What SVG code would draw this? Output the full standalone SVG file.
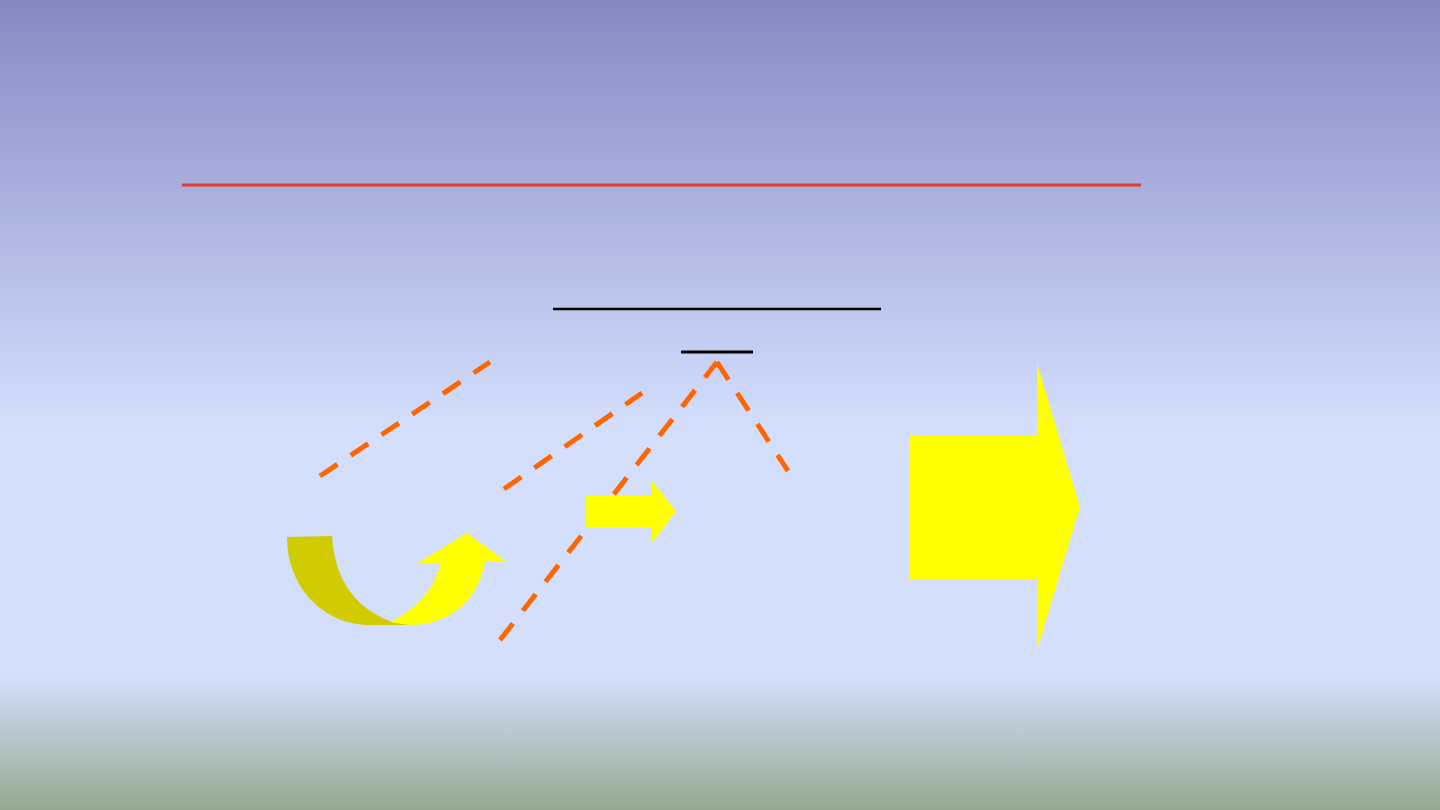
<svg xmlns="http://www.w3.org/2000/svg" width="1440" height="810" viewBox="0 0 1440 810">
<defs>
<linearGradient id="bg" x1="0" y1="0" x2="0" y2="1">
<stop offset="0" stop-color="#8589C3"/>
<stop offset="0.53" stop-color="#D4DFFE"/>
<stop offset="0.835" stop-color="#D4DFFE"/>
<stop offset="1" stop-color="#94AA90"/>
</linearGradient>
</defs>
<style>
.dash{stroke:#FF6600;stroke-width:5;stroke-dasharray:21 16;fill:none}
.yel{fill:#FFFF00}
.blk{stroke:#000;fill:none}
</style>
<rect width="1440" height="810" fill="url(#bg)"/>
<line x1="182" y1="185" x2="1141" y2="185" stroke="#E03C31" stroke-width="3"/>
<g id="lines">
<line class="blk" x1="553" y1="309" x2="881" y2="309" stroke-width="2.5"/>
<line class="blk" x1="681" y1="352" x2="753" y2="352" stroke-width="3"/>
</g>
<g id="connectors">
<line class="dash" x1="320" y1="476" x2="490" y2="362"/>
<line class="dash" x1="504" y1="489" x2="642" y2="393"/>
<line class="dash" x1="500" y1="640" x2="717" y2="362"/>
<line class="dash" x1="717" y1="362" x2="788" y2="471"/>
</g>
<g id="curved-arrow">
<path fill="#D0CC00" d="M287,537 L332,536 C335,585 360,610 392,622 L410,625 L365,625 C320,622 287,585 287,537 Z"/>
<path class="yel" d="M390,622 C415,610 435,590 440,564 L418,563 L467,533 L507,562 L485,562 C478,600 450,625 410,625 Z"/>
</g>
<g id="small-arrow">
<path class="yel" d="M586,496 L652,496 L652,481 L676,511 L652,543 L652,527 L586,527 Z"/>
</g>
<g id="big-arrow">
<path class="yel" d="M909,435 L1037,435 L1037,363 L1080,507 L1037,650 L1037,579 L909,579 Z"/>
</g>
</svg>
